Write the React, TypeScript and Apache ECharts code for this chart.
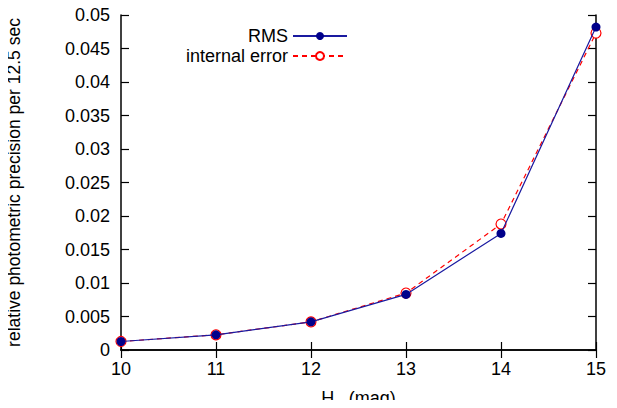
import React, { useEffect, useRef } from "react";
import * as echarts from "echarts";

const magnitudes = [10, 11, 12, 13, 14, 15];
const rmsValues = [0.00127, 0.00227, 0.0042, 0.0083, 0.0174, 0.0482];
const internalErrorValues = [0.00127, 0.00227, 0.0042, 0.0085, 0.0188, 0.0473];

const FONT = "Liberation Sans, Arial, sans-serif";
const FS = 18;

export default function App() {
  const ref = useRef<HTMLDivElement>(null);
  useEffect(() => {
    if (!ref.current) return;
    const chart = echarts.init(ref.current, null, { renderer: "svg" });
    const axisLine = { show: true, lineStyle: { color: "#000", width: 1.5 } };
    const tick = { show: true, inside: true, length: 8, lineStyle: { color: "#000", width: 1.2 } };
    chart.setOption({
      animation: false,
      backgroundColor: "#fff",
      textStyle: { fontFamily: FONT },
      grid: { left: 121, right: 21, top: 15, bottom: 58, containLabel: false, outerBoundsMode: "none" },
      legend: {
        orient: "vertical",
        right: 264,
        top: 22,
        align: "right",
        itemWidth: 54,
        itemHeight: 10,
        itemGap: 2,
        textStyle: { fontSize: FS, color: "#000", fontFamily: FONT, padding: [0, 0, 0, 0] },
        data: ["RMS", "internal error"],
      },
      xAxis: [
        {
          type: "value",
          min: 10,
          max: 15,
          interval: 1,
          axisLine,
          axisTick: tick,
          splitLine: { show: false },
          axisLabel: { color: "#000", fontSize: FS, margin: 10, fontFamily: FONT },
          name: "{a|H}{s|w}{a| (mag)}",
          nameLocation: "middle",
          nameGap: 38,
          nameTextStyle: {
            rich: {
              a: { fontSize: FS, lineHeight: 20, color: "#000", fontFamily: FONT },
              s: { fontSize: 13, lineHeight: 20, color: "#000", fontFamily: FONT, padding: [8, 0, 0, 0] },
            },
          },
        },
        {
          type: "value",
          position: "top",
          min: 10,
          max: 15,
          interval: 1,
          axisLine,
          axisTick: tick,
          splitLine: { show: false },
          axisLabel: { show: false },
        },
      ],
      yAxis: [
        {
          type: "value",
          min: 0,
          max: 0.05,
          interval: 0.005,
          axisLine,
          axisTick: tick,
          splitLine: { show: false },
          axisLabel: {
            color: "#000",
            fontSize: FS,
            margin: 11,
            fontFamily: FONT,
            formatter: (v: number) => String(parseFloat(v.toFixed(4))),
          },
          name: "relative photometric precision per 12.5 sec",
          nameLocation: "middle",
          nameGap: 98,
          nameRotate: 90,
          nameTextStyle: { fontSize: 17.5, color: "#000", fontFamily: FONT },
        },
        {
          type: "value",
          position: "right",
          min: 0,
          max: 0.05,
          interval: 0.005,
          axisLine,
          axisTick: tick,
          splitLine: { show: false },
          axisLabel: { show: false },
        },
      ],
      series: [
        {
          name: "RMS",
          type: "line",
          data: magnitudes.map((m, i) => [m, rmsValues[i]]),
          symbol: "circle",
          symbolSize: 9,
          z: 3,
          itemStyle: { color: "#00008b" },
          lineStyle: { color: "#1a1aa0", width: 1.2 },
        },
        {
          name: "internal error",
          type: "line",
          data: magnitudes.map((m, i) => [m, internalErrorValues[i]]),
          symbol: "circle",
          symbolSize: 10,
          z: 2,
          itemStyle: { color: "#fff", borderColor: "#ff0000", borderWidth: 1.2, opacity: 1 },
          lineStyle: { color: "#ff0000", width: 1.2, type: [5, 4] },
        },
      ],
    });
    return () => chart.dispose();
  }, []);
  return <div ref={ref} style={{ width: 617, height: 408, margin: -8 }} />;
}
